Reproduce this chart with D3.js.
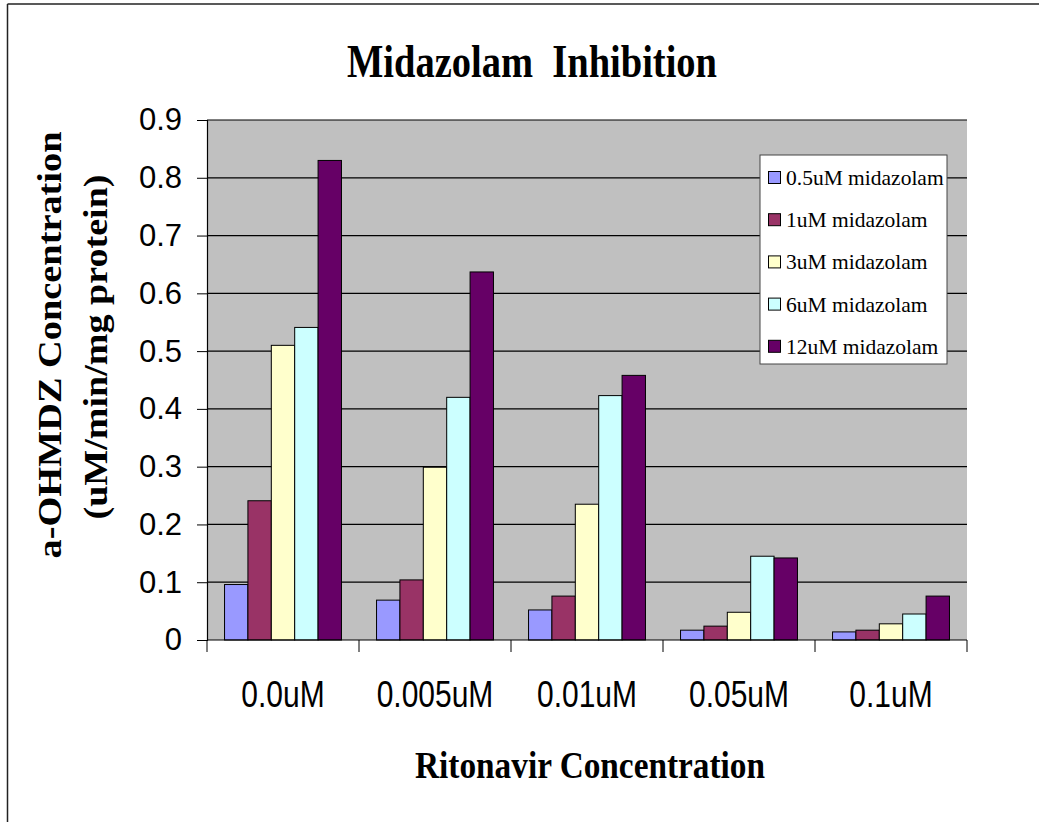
<!DOCTYPE html>
<html>
<head>
<meta charset="utf-8">
<script src="https://cdn.jsdelivr.net/npm/d3@7"></script>
<style>
  body { margin: 0; background: #fff; }
  svg { display: block; }
</style>
</head>
<body>
<div id="chart"></div>
<script>
// chart data
const categories = ["0.0uM", "0.005uM", "0.01uM", "0.05uM", "0.1uM"];
const seriesNames = ["0.5uM midazolam", "1uM midazolam", "3uM midazolam", "6uM midazolam", "12uM midazolam"];
const mid05 = [0.096, 0.069, 0.052, 0.017, 0.014];
const mid1 = [0.241, 0.104, 0.076, 0.024, 0.017];
const mid3 = [0.510, 0.299, 0.235, 0.048, 0.028];
const mid6 = [0.541, 0.420, 0.423, 0.145, 0.045];
const mid12 = [0.830, 0.637, 0.458, 0.142, 0.076];
const yTicks = [0, 0.1, 0.2, 0.3, 0.4, 0.5, 0.6, 0.7, 0.8, 0.9];
const colors = ["#9999FF", "#993366", "#FFFFCC", "#CCFFFF", "#660066"];

const seriesValues = [mid05, mid1, mid3, mid6, mid12];

const width = 1039, height = 822;
const plot = {left: 207, right: 967, top: 120, bottom: 640};

const svg = d3.select("#chart")
  .append("svg")
    .attr("width", width)
    .attr("height", height);

// outer frame (top and left edges are all that show)
svg.append("line")
  .attr("x1", 7.5).attr("x2", width).attr("y1", 4).attr("y2", 4)
  .attr("stroke", "#222").attr("stroke-width", 1.5);
svg.append("line")
  .attr("x1", 7.5).attr("x2", 7.5).attr("y1", 4).attr("y2", height)
  .attr("stroke", "#222").attr("stroke-width", 1.5);

// scales
const x0 = d3.scaleBand()
  .domain(categories)
  .range([plot.left, plot.right])
  .padding(0);

const x1 = d3.scaleBand()
  .domain(seriesNames)
  .range([0, x0.bandwidth()])
  .paddingInner(0)
  .paddingOuter(0.75);

const y = d3.scaleLinear()
  .domain([0, 0.9])
  .range([plot.bottom, plot.top]);

// plot background
svg.append("rect")
  .attr("x", plot.left).attr("y", plot.top)
  .attr("width", plot.right - plot.left)
  .attr("height", plot.bottom - plot.top)
  .attr("fill", "#C0C0C0");

// gridlines
svg.append("g")
  .selectAll("line")
  .data(yTicks.filter(d => d > 0))
  .join("line")
    .attr("x1", plot.left).attr("x2", plot.right)
    .attr("y1", d => y(d)).attr("y2", d => y(d))
    .attr("stroke", "#000").attr("stroke-width", 1.2);

// bars
const rows = categories.map((c, i) => ({cat: c, vals: seriesNames.map((s, j) => ({s: s, j: j, v: seriesValues[j][i]}))}));

svg.append("g")
  .selectAll("g")
  .data(rows)
  .join("g")
    .attr("transform", d => `translate(${x0(d.cat)},0)`)
  .selectAll("rect")
  .data(d => d.vals)
  .join("rect")
    .attr("x", d => x1(d.s))
    .attr("y", d => y(d.v))
    .attr("width", x1.bandwidth())
    .attr("height", d => y(0) - y(d.v))
    .attr("fill", d => colors[d.j])
    .attr("stroke", "#000")
    .attr("stroke-width", 1);

// y axis
const yAxis = svg.append("g")
  .attr("transform", `translate(${plot.left},0)`)
  .call(d3.axisLeft(y).tickValues(yTicks).tickSize(10).tickPadding(15)
    .tickFormat(d => d === 0 ? "0" : d3.format(".1f")(d)));
yAxis.select(".domain").attr("stroke", "#000").attr("stroke-width", 1.2);
yAxis.selectAll(".tick line").attr("stroke", "#000");
yAxis.selectAll(".tick text")
  .attr("font-family", "'Liberation Sans', Arial, sans-serif")
  .attr("font-size", 31)
  .attr("fill", "#000");

// x axis: ticks sit on band edges
const xAxis = svg.append("g")
  .attr("transform", `translate(0,${plot.bottom})`);
xAxis.append("line")
  .attr("x1", plot.left).attr("x2", plot.right)
  .attr("stroke", "#000").attr("stroke-width", 1.2);
xAxis.selectAll(".xtick")
  .data(categories.concat(["end"]))
  .join("line")
    .attr("class", "xtick")
    .attr("x1", (d, i) => i < categories.length ? x0(d) : plot.right)
    .attr("x2", (d, i) => i < categories.length ? x0(d) : plot.right)
    .attr("y1", 0).attr("y2", 12)
    .attr("stroke", "#000");
xAxis.selectAll(".xlabel")
  .data(categories)
  .join("text")
    .attr("class", "xlabel")
    .attr("transform", d => `translate(${x0(d) + x0.bandwidth() / 2},67) scale(1,1.2)`)
    .attr("text-anchor", "middle")
    .attr("font-family", "'Liberation Sans', Arial, sans-serif")
    .attr("font-size", 30)
    .text(d => d);

// titles
svg.append("text")
  .attr("x", 532).attr("y", 77)
  .attr("text-anchor", "middle")
  .attr("font-family", "'Liberation Serif', 'Times New Roman', serif")
  .attr("font-weight", "bold")
  .attr("font-size", 47)
  .attr("textLength", 370)
  .attr("lengthAdjust", "spacingAndGlyphs")
  .style("white-space", "pre")
  .text("Midazolam  Inhibition");

svg.append("text")
  .attr("x", 590).attr("y", 778)
  .attr("text-anchor", "middle")
  .attr("font-family", "'Liberation Serif', 'Times New Roman', serif")
  .attr("font-weight", "bold")
  .attr("font-size", 37)
  .attr("textLength", 350)
  .attr("lengthAdjust", "spacingAndGlyphs")
  .text("Ritonavir Concentration");

const yTitle = svg.append("g")
  .attr("font-family", "'Liberation Serif', 'Times New Roman', serif")
  .attr("font-weight", "bold")
  .attr("font-size", 33)
  .attr("text-anchor", "middle");
yTitle.append("text")
  .attr("transform", "translate(61,345) rotate(-90)")
  .attr("textLength", 427)
  .attr("lengthAdjust", "spacingAndGlyphs")
  .text("a-OHMDZ Concentration");
yTitle.append("text")
  .attr("transform", "translate(107,347) rotate(-90)")
  .attr("textLength", 345)
  .attr("lengthAdjust", "spacingAndGlyphs")
  .text("(uM/min/mg protein)");

// legend
const legend = svg.append("g");
legend.append("rect")
  .attr("x", 760).attr("y", 155)
  .attr("width", 187).attr("height", 209)
  .attr("fill", "#fff")
  .attr("stroke", "#444")
  .attr("stroke-width", 1);

const legendItems = legend.selectAll(".item")
  .data(seriesNames)
  .join("g")
    .attr("class", "item")
    .attr("transform", (d, i) => `translate(768,${178 + i * 42.2})`);
legendItems.append("rect")
  .attr("x", 0.5).attr("y", -6.5)
  .attr("width", 12).attr("height", 12)
  .attr("fill", (d, i) => colors[i])
  .attr("stroke", "#000");
legendItems.append("text")
  .attr("x", 18).attr("y", 7)
  .attr("font-family", "'Liberation Serif', 'Times New Roman', serif")
  .attr("font-size", 21.5)
  .text(d => d);
</script>
</body>
</html>
